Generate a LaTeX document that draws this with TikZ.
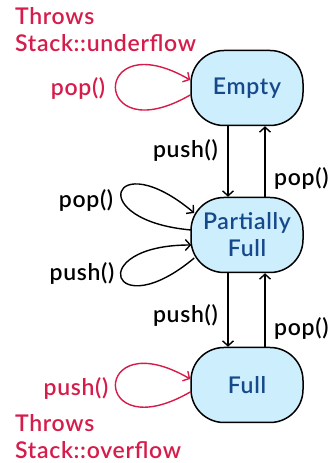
\documentclass[tikz,border=0pt]{standalone}
\usepackage{fontspec}
\setmainfont{Lato}[UprightFont={* Semibold}, LetterSpace=3]
\usetikzlibrary{arrows.meta}

\definecolor{errred}{RGB}{214,28,74}
\definecolor{statefill}{RGB}{205,238,252}
\definecolor{statetext}{RGB}{22,72,140}

\tikzset{
	state/.style={draw, line width=1.5pt, fill=statefill, text=statetext, rounded corners=33pt,
		minimum width=112pt, minimum height=75pt, inner sep=0pt, align=center},
	trans/.style={line width=1.4pt, -{Straight Barb[length=5pt,width=11pt,line width=1.4pt]}},
	lbl/.style={inner sep=0pt},
}

\begin{document}
\begin{tikzpicture}[x=1pt, y=1pt, font=\fontsize{23}{27}\selectfont]
	\useasboundingbox[fill=white] (0,0) rectangle (331,463);

	\node[state] (empty) at (247,375) {Empty};
	\node[state] (partial) at (247,228) {Partially\\Full};
	\node[state] (full) at (247,78) {Full};

	\draw[trans] ([xshift=-19pt]empty.south) -- ([xshift=-19pt]partial.north);
	\draw[trans] ([xshift=18pt]partial.north) -- ([xshift=18pt]empty.south);
	\draw[trans] ([xshift=-19pt]partial.south) -- ([xshift=-19pt]full.north);
	\draw[trans] ([xshift=18pt]full.north) -- ([xshift=18pt]partial.south);

	\node[lbl, anchor=east] (pushA) at (218,313) {push()};
	\node[lbl, anchor=west] (popA) at (274,285) {pop()};
	\node[lbl, anchor=east] (pushB) at (218,148) {push()};
	\node[lbl, anchor=west] (popB) at (274,135) {pop()};

	\draw[trans] ([xshift=1pt,yshift=5pt]partial.west) to[out=175, in=140, distance=108pt] ([xshift=4pt,yshift=22pt]partial.west);
	\draw[trans] ([xshift=4pt,yshift=-23pt]partial.west) to[out=220, in=180, distance=108pt] ([xshift=1pt,yshift=-10pt]partial.west);
	\node[lbl] (popC) at (86,263) {pop()};
	\node[lbl] (pushC) at (82,190) {push()};

	\draw[trans, errred] ([yshift=-7pt]empty.west) to[out=210, in=150, distance=115pt] ([yshift=8pt]empty.west);
	\draw[trans, errred] ([yshift=-7pt]full.west) to[out=210, in=150, distance=115pt] ([yshift=6pt]full.west);
	\node[lbl, text=errred] (popErr) at (78,375) {pop()};
	\node[lbl, text=errred] (pushErr) at (76,75) {push()};

	\node[lbl, text=errred, anchor=north west, align=left] (under) at (15,456) {Throws\\Stack::underflow};
	\node[lbl, text=errred, anchor=north west, align=left] (over) at (15,49) {Throws\\Stack::overflow};
\end{tikzpicture}
\end{document}
